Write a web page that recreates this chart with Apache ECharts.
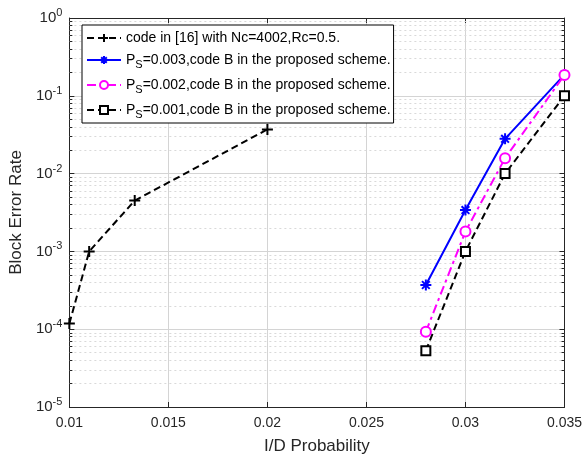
<!DOCTYPE html>
<html>
<head>
<meta charset="utf-8">
<script src="https://cdn.jsdelivr.net/npm/echarts@6/dist/echarts.min.js"></script>
<style>
  html, body { margin: 0; padding: 0; background: #fff; }
  #main { width: 585px; height: 460px; }
</style>
</head>
<body>
<div id="main"></div>
<script>
// data
const idProb16 = [0.01, 0.011, 0.0133, 0.02]
const bler16 = [1.18e-4, 1.0e-3, 4.5e-3, 3.7e-2]
const idProbB = [0.028, 0.03, 0.032, 0.035]
const blerPs003 = [3.7e-4, 3.4e-3, 2.8e-2, 0.187]
const blerPs002 = [9.3e-5, 1.8e-3, 1.58e-2, 0.185]
const blerPs001 = [5.3e-5, 1.0e-3, 1.0e-2, 0.1]

const names = [
    'code in [16] with Nc=4002,Rc=0.5.',
    'PS=0.003,code B in the proposed scheme.',
    'PS=0.002,code B in the proposed scheme.',
    'PS=0.001,code B in the proposed scheme.'
]

const xMin = 0.01, xMax = 0.035

// dotted minor gridlines at 2..9 x 10^k, plus small inside ticks on both sides
let minorLines = []
let minorTicks = []
for (let k = -5; k < 0; k++) {
    for (let m = 2; m <= 9; m++) {
        let v = m * Math.pow(10, k)
        minorLines.push({ yAxis: v })
        minorTicks.push([{ coord: [xMin, v] }, { coord: [xMin + 0.00015, v] }])
        minorTicks.push([{ coord: [xMax - 0.00015, v] }, { coord: [xMax, v] }])
    }
}

function zip(xs, ys) {
    return xs.map((x, i) => [x, ys[i]])
}

const font = 'Liberation Sans, Arial, sans-serif'
const plus = 'path://M5,0L5,10M0,5L10,5'
const star = 'path://M5,0L5,10M0,5L10,5M1.5,1.5L8.5,8.5M8.5,1.5L1.5,8.5'

let chart = echarts.init(document.getElementById('main'))

chart.setOption({
    animation: false,
    textStyle: { fontFamily: font },
    grid: { left: 67, right: 18, top: 18, bottom: 47 },
    legend: {
        left: 82, top: 25,
        orient: 'vertical',
        backgroundColor: '#fff',
        borderColor: '#000',
        borderWidth: 1,
        borderRadius: 0,
        padding: [6, 3, 3, 4],
        itemGap: 5,
        itemWidth: 34,
        itemHeight: 10,
        data: names,
        formatter: function (name) {
            if (name.indexOf('PS') === 0) {
                return '{t|P}{s|S}{t|' + name.slice(2) + '}'
            }
            return '{t|' + name + '}'
        },
        textStyle: {
            color: '#000',
            rich: {
                t: { fontSize: 14, fontFamily: font, color: '#000', lineHeight: 19 },
                s: { fontSize: 11, fontFamily: font, color: '#000', padding: [9, 0, 0, 0], lineHeight: 19 }
            }
        }
    },
    xAxis: [{
        type: 'value',
        min: xMin, max: xMax, interval: 0.005,
        name: 'I/D Probability',
        nameLocation: 'middle',
        nameGap: 31,
        nameTextStyle: { fontSize: 17, color: '#262626', fontFamily: font },
        axisLine: { lineStyle: { color: '#262626', width: 1 } },
        axisTick: { inside: true, length: 5, lineStyle: { color: '#262626' } },
        axisLabel: {
            fontSize: 14, color: '#262626', margin: 9,
            formatter: (v) => String(+v.toFixed(3))
        },
        splitLine: { show: true, lineStyle: { color: '#d4d4d4', width: 1 } }
    }, {
        type: 'value',
        position: 'top',
        min: xMin, max: xMax, interval: 0.005,
        axisLine: { show: true, lineStyle: { color: '#262626' } },
        axisTick: { show: true, inside: true, length: 5, lineStyle: { color: '#262626' } },
        axisLabel: { show: false },
        splitLine: { show: false }
    }],
    yAxis: [{
        type: 'log',
        logBase: 10,
        min: 1e-5, max: 1,
        name: 'Block Error Rate',
        nameLocation: 'middle',
        nameGap: 40,
        nameTextStyle: { fontSize: 17, color: '#262626', fontFamily: font },
        axisLine: { show: true, lineStyle: { color: '#262626' } },
        axisTick: { show: true, inside: true, length: 5, lineStyle: { color: '#262626' } },
        axisLabel: {
            color: '#262626', margin: 7,
            formatter: function (v) {
                let e = Math.round(Math.log10(v))
                return '{b|10}{e|' + e + '}'
            },
            rich: {
                b: { fontSize: 15, fontFamily: font, color: '#262626' },
                e: { fontSize: 11, fontFamily: font, color: '#262626', padding: [0, 0, 10, 0] }
            }
        },
        splitLine: { show: true, lineStyle: { color: '#d4d4d4', width: 1 } }
    }, {
        type: 'log',
        logBase: 10,
        min: 1e-5, max: 1,
        position: 'right',
        axisLine: { show: true, lineStyle: { color: '#262626' } },
        axisTick: { show: true, inside: true, length: 5, lineStyle: { color: '#262626' } },
        axisLabel: { show: false },
        splitLine: { show: false }
    }],
    series: [
        {
            name: names[0],
            type: 'line',
            data: zip(idProb16, bler16),
            symbol: plus,
            symbolSize: 11,
            itemStyle: { color: '#000', borderColor: '#000', borderWidth: 2 },
            lineStyle: { color: '#000', width: 2, type: [7, 4] },
            z: 5,
            markLine: {
                silent: true,
                symbol: 'none',
                precision: 12,
                label: { show: false },
                lineStyle: { color: '#d9d9d9', type: [2, 3], width: 1 },
                data: minorLines,
                z: 1
            }
        },
        {
            name: 'minor ticks',
            type: 'line',
            data: [],
            silent: true,
            markLine: {
                silent: true,
                symbol: 'none',
                precision: 12,
                label: { show: false },
                lineStyle: { color: '#262626', type: 'solid', width: 1 },
                data: minorTicks,
                z: 3
            }
        },
        {
            name: names[1],
            type: 'line',
            data: zip(idProbB, blerPs003),
            symbol: star,
            symbolSize: 11,
            itemStyle: { color: '#0000ff', borderColor: '#0000ff', borderWidth: 2 },
            lineStyle: { color: '#0000ff', width: 2, type: 'solid' },
            z: 5
        },
        {
            name: names[2],
            type: 'line',
            data: zip(idProbB, blerPs002),
            symbol: 'emptyCircle',
            symbolSize: 10,
            itemStyle: { color: '#ff00ff', borderColor: '#ff00ff', borderWidth: 2 },
            lineStyle: { color: '#ff00ff', width: 2, type: [9, 4, 3, 4] },
            z: 5
        },
        {
            name: names[3],
            type: 'line',
            data: zip(idProbB, blerPs001),
            symbol: 'emptyRect',
            symbolSize: 9,
            itemStyle: { color: '#000', borderColor: '#000', borderWidth: 2 },
            lineStyle: { color: '#000', width: 2, type: [7, 4] },
            z: 5
        }
    ]
})
</script>
</body>
</html>
